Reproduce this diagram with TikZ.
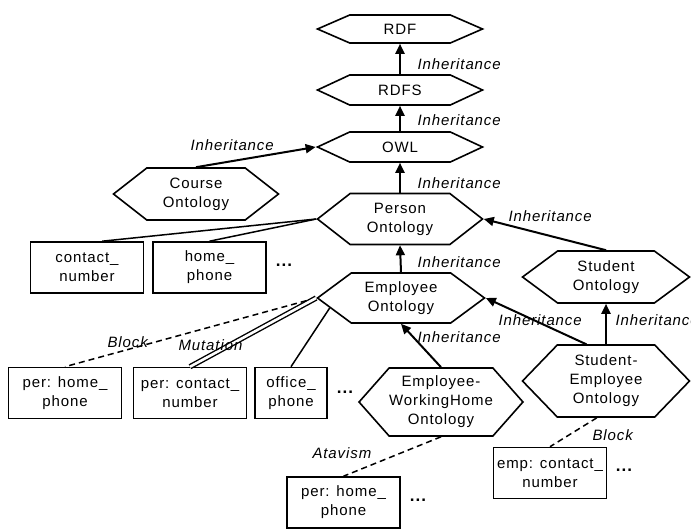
\documentclass[tikz,border=0pt]{standalone}
\usepackage{fontspec}
\setmainfont{Liberation Sans}[LetterSpace=6]
\usetikzlibrary{arrows.meta, shapes.symbols, calc}

\begin{document}
\begin{tikzpicture}[x=1pt, y=-1pt,
    every node/.style={font=\fontsize{15}{19}\selectfont},
    hexnode/.style={draw, line width=1.6pt, signal, signal to=east and west,
        inner sep=0pt, align=center, minimum width=165pt, minimum height=#1},
    hexnode/.default=51pt,
    attrbox/.style={draw, line width=1.6pt, rectangle, inner sep=0pt, align=center,
        minimum width=113pt, minimum height=51pt},
    inh/.style={line width=2pt, -{Triangle[length=10pt,width=9pt]}},
    link/.style={line width=1.5pt},
    blocklink/.style={line width=1.5pt, dash pattern=on 6pt off 4pt},
    moredots/.style={font=\fontsize{17}{19}\selectfont\bfseries},
    lbl/.style={anchor=west, font=\fontsize{15}{19}\selectfont\itshape}]

    \useasboundingbox (0,0) rectangle (691,528);

    % Ontologies
    \node[hexnode=28pt, signal pointer angle=47] (rdf) at (400,29) {RDF};
    \node[hexnode=30pt, signal pointer angle=50] (rdfs) at (400,90) {RDFS};
    \node[hexnode=30pt, signal pointer angle=50] (owl) at (400,147) {OWL};
    \node[hexnode=52pt, signal pointer angle=76] (course) at (196,194) {Course\\Ontology};
    \node[hexnode, signal pointer angle=76] (person) at (400,219) {Person\\Ontology};
    \node[hexnode=50pt, signal pointer angle=73, minimum width=167pt] (employee) at (401,298) {Employee\\Ontology};
    \node[hexnode=52pt, signal pointer angle=73, minimum width=167pt] (student) at (606,277) {Student\\Ontology};
    \node[hexnode=72pt, signal pointer angle=92, minimum width=167pt] (stuemp) at (606,381) {Student-\\Employee\\Ontology};
    \node[hexnode=68pt, signal pointer angle=97, minimum width=161pt] (workhome) at (441,402) {Employee-\\WorkingHome\\Ontology};

    % Attributes
    \node[attrbox] (contact) at (87,267.5) {contact\_\\number};
    \node[attrbox] (home) at (209.5,267.5) {home\_\\phone};
    \node[attrbox] (perhome) at (65,393) {per: home\_\\phone};
    \node[attrbox] (percontact) at (190,393) {per: contact\_\\number};
    \node[attrbox, minimum width=72pt] (office) at (291,393) {office\_\\phone};
    \node[attrbox] (athome) at (343.5,502.5) {per: home\_\\phone};
    \node[attrbox] (empcontact) at (550,473) {emp: contact\_\\number};

    \node[moredots] (dotsa) at (284,265) {...};
    \node[moredots] (dotsb) at (345,392) {...};
    \node[moredots] (dotsc) at (418,500) {...};
    \node[moredots] (dotsd) at (624,470) {...};

    % Inheritance arrows
    \draw[inh] (rdfs.north) -- (rdf.south);
    \draw[inh] (owl.north) -- (rdfs.south);
    \draw[inh] (person.north) -- (owl.south);
    \draw[inh] (course.north) -- (owl.west);
    \draw[inh] (employee.north) -- (person.south);
    \draw[inh] (student.north) -- (person.east);
    \draw[inh] (stuemp.118) -- (employee.east);
    \draw[inh] (stuemp.north) -- (student.south);
    \draw[inh] (workhome.north) -- (employee.south);

    % Attribute links
    \draw[link] (person.west) -- (contact.60);
    \draw[link] (person.west) -- (home.north);
    \draw[blocklink] (employee.west) -- (perhome.north);
    \draw[link, double, double distance=2.6pt, line width=1.4pt] (employee.west) -- (percontact.north);
    \draw[link] (employee.188) -- (office.north);
    \draw[blocklink] (workhome.south) -- (athome.north);
    \draw[blocklink] (stuemp.256) -- (empcontact.north);

    % Labels
    \node[lbl] (inha) at (414,64) {Inheritance};
    \node[lbl] (inhb) at (414,120) {Inheritance};
    \node[lbl] (inhc) at (187,145) {Inheritance};
    \node[lbl] (inhd) at (414,183) {Inheritance};
    \node[lbl] (inhe) at (505,216) {Inheritance};
    \node[lbl] (inhf) at (414,262) {Inheritance};
    \node[lbl] (inhg) at (495,320) {Inheritance};
    \node[lbl] (inhh) at (612,320) {Inheritance};
    \node[lbl] (inhi) at (414,337) {Inheritance};
    \node[lbl] (blocka) at (104,342) {Block};
    \node[lbl] (mutation) at (175,345) {Mutation};
    \node[lbl] (atavism) at (309,453) {Atavism};
    \node[lbl] (blockb) at (589,435) {Block};
\end{tikzpicture}
\end{document}
